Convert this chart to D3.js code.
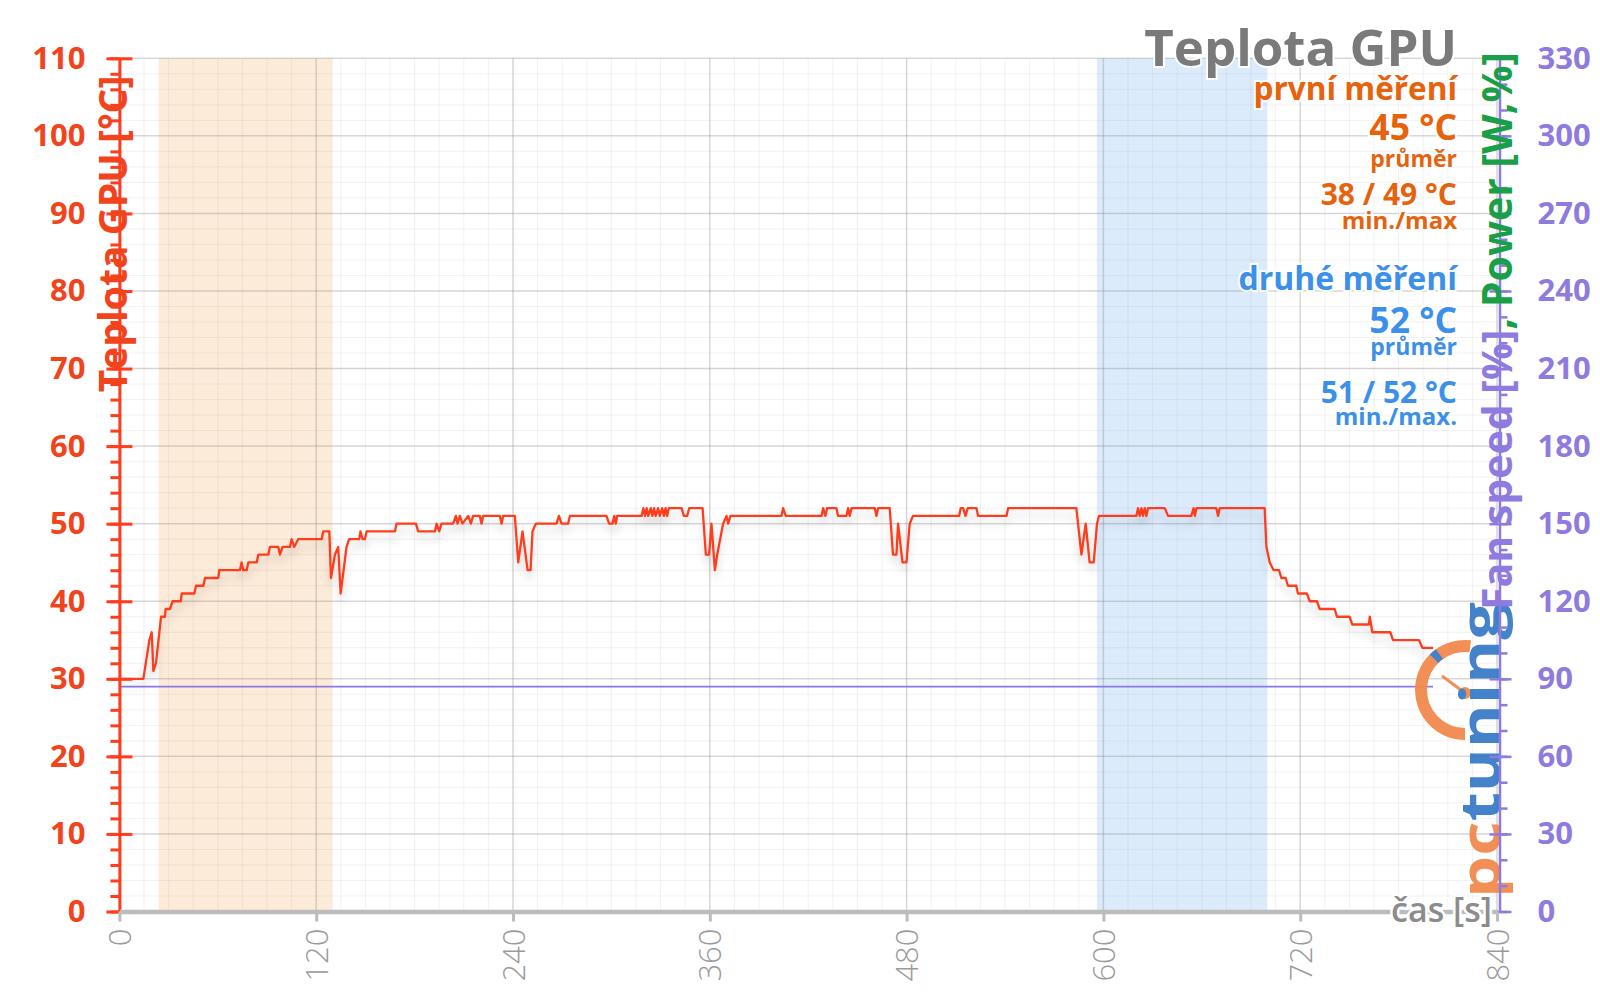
<!DOCTYPE html>
<html>
<head>
<meta charset="utf-8">
<script src="https://cdn.jsdelivr.net/npm/d3@7"></script>
<style>
  body { margin: 0; background: #fff; }
  svg { display: block; }
  text { font-family: "Open Sans", "DejaVu Sans", sans-serif; }
</style>
</head>
<body>
<svg id="chart" width="1600" height="1007"></svg>
<script>
// GPU temperature over time (s, °C)
var tempTime = [0, 14.6, 18.3, 19.7, 20.7, 22.3, 25.4, 27.8, 28.2, 30.8, 32.5, 37.5, 38, 45.7, 46.7, 51.2, 52.2, 60.3, 60.9, 73.5,
  74.5, 75.5, 77.6, 78.6, 83.7, 84.7, 90.8, 91.8, 96.9, 97.9, 99.5, 104, 105, 106.6, 109, 123.3, 124.3, 128, 129, 131.4,
  133.4, 134.9, 138.5, 140.1, 146.2, 147, 148.3, 149.7, 150.7, 168, 169, 180.8, 182.2, 192.4, 193.4, 195, 196.4, 203.5, 205.2, 206.2,
  207.6, 209.2, 212.7, 214.3, 215.7, 219.8, 220.8, 221.8, 232, 233, 234, 241.1, 243.2, 245.8, 248.9, 250.7, 251.9, 253.9, 266.6, 268,
  269.6, 273.6, 274.7, 297, 298.6, 300.7, 301.7, 302.7, 303.5, 318.4, 319.5, 320.5, 321.5, 322.5, 324, 325, 326, 327, 328.5, 329.5,
  331, 332, 333, 334, 335, 342.8, 344.2, 346.2, 347.4, 355.6, 357.6, 359.6, 361, 363.1, 364.5, 368.1, 370.2, 371.2, 372.6, 403.7,
  404.7, 406.3, 428.1, 429.1, 430.5, 431.5, 437.2, 438.2, 443.3, 444.3, 445.3, 446.4, 460.6, 461.6, 462.6, 469.7, 471.7, 473.8, 474.8, 477.5,
  479.9, 481.9, 483.9, 512, 513, 514.5, 515.9, 517.3, 522.6, 523.6, 540.9, 541.9, 583.5, 586.6, 589.2, 591.6, 594.1, 596.1, 597.3, 620.1,
  621.1, 622.1, 623.2, 624.1, 625.2, 626.2, 627.2, 637.4, 639.4, 653.6, 655, 655.8, 656.7, 668.9, 669.9, 670.9, 698.3, 699.4, 701.4, 703.8,
  707.1, 708.5, 711.1, 712.5, 717.6, 718.6, 724.1, 725.8, 730.2, 731.9, 741, 742.4, 750.1, 751.8, 761.9, 762.4, 763.2, 764, 775, 776.6,
  792.4, 794.5, 801];
var tempValue = [30, 30, 35, 36, 31, 32, 38, 38, 39, 39, 40, 40, 41, 41, 42, 42, 43, 43, 44, 44,
  45, 44, 44, 45, 45, 46, 46, 47, 47, 46, 47, 47, 48, 47, 48, 48, 49, 49, 43, 46,
  47, 41, 47, 48, 48, 49, 48, 48, 49, 49, 50, 50, 49, 49, 50, 49, 50, 50, 51, 50,
  51, 50, 51, 50, 51, 51, 50, 51, 51, 50, 51, 51, 45, 49, 44, 44, 49, 50, 50, 51,
  50, 50, 51, 51, 50, 50, 51, 50, 51, 51, 52, 51, 52, 51, 52, 51, 52, 51, 52, 51,
  52, 51, 52, 51, 52, 52, 51, 51, 52, 52, 46, 46, 50, 44, 46, 50, 51, 50, 51, 51,
  52, 51, 51, 52, 51, 52, 52, 51, 51, 52, 51, 52, 52, 51, 52, 52, 46, 46, 50, 45,
  45, 50, 51, 51, 52, 52, 51, 52, 52, 51, 51, 52, 52, 46, 50, 45, 45, 50, 51, 51,
  52, 51, 52, 51, 52, 51, 52, 52, 51, 51, 52, 51, 52, 52, 51, 52, 52, 47, 45, 44,
  44, 43, 43, 42, 42, 41, 41, 40, 40, 39, 39, 38, 38, 37, 37, 38, 37, 36, 36, 35,
  35, 34, 34];

// fan speed, plotted against the right axis
var fanTime = [0, 801];
var fanValue = [87, 87];

var xTicks = [0, 120, 240, 360, 480, 600, 720, 840];
var leftTicks = [0, 10, 20, 30, 40, 50, 60, 70, 80, 90, 100, 110];
var rightTicks = [0, 30, 60, 90, 120, 150, 180, 210, 240, 270, 300, 330];

// measured intervals (s)
var firstRun = [24, 130];
var secondRun = [596, 700];

var svg = d3.select("#chart"),
    pLeft = 119.4, pRight = 1497, pTop = 58.3, pBottom = 911.5;

var x = d3.scaleLinear().domain([0, 840]).range([pLeft, pRight]),
    yL = d3.scaleLinear().domain([0, 110]).range([pBottom, pTop]),
    yR = d3.scaleLinear().domain([0, 330]).range([pBottom, pTop]);

var red = "#ff3c1c", redText = "#f2441c", purple = "#8f7be0", green = "#1a9e48",
    orange = "#e7620d", blue = "#3c90ea", gray = "#9a9a9a";

var defs = svg.append("defs");
defs.append("filter").attr("id", "shadow")
    .attr("x", "-5%").attr("y", "-30%").attr("width", "110%").attr("height", "180%")
  .append("feDropShadow")
    .attr("dx", 0).attr("dy", 7).attr("stdDeviation", 4)
    .attr("flood-color", "#000").attr("flood-opacity", 0.16);

// measurement bands
svg.append("rect")
    .attr("x", x(firstRun[0])).attr("width", x(firstRun[1]) - x(firstRun[0]))
    .attr("y", pTop).attr("height", pBottom - pTop)
    .attr("fill", "#fdebd9");
svg.append("rect")
    .attr("x", x(secondRun[0])).attr("width", x(secondRun[1]) - x(secondRun[0]))
    .attr("y", pTop).attr("height", pBottom - pTop)
    .attr("fill", "#dcebfc");

// grid
var grid = svg.append("g");
grid.selectAll(".vmin").data(d3.range(0, 841, 15)).enter().append("line")
    .attr("x1", x).attr("x2", x).attr("y1", pTop).attr("y2", pBottom)
    .attr("stroke", "#8a8a8a").attr("stroke-opacity", 0.11).attr("stroke-width", 1);
grid.selectAll(".hmin").data(d3.range(0, 111, 2)).enter().append("line")
    .attr("x1", pLeft).attr("x2", pRight).attr("y1", yL).attr("y2", yL)
    .attr("stroke", "#8a8a8a").attr("stroke-opacity", 0.11).attr("stroke-width", 1);
grid.selectAll(".vmaj").data(xTicks).enter().append("line")
    .attr("x1", x).attr("x2", x).attr("y1", pTop).attr("y2", pBottom)
    .attr("stroke", "#8a8a8a").attr("stroke-opacity", 0.28).attr("stroke-width", 1.5);
grid.selectAll(".hmaj").data(leftTicks).enter().append("line")
    .attr("x1", pLeft).attr("x2", pRight).attr("y1", yL).attr("y2", yL)
    .attr("stroke", "#8a8a8a").attr("stroke-opacity", 0.28).attr("stroke-width", 1.5);

// fan speed line
svg.append("path")
    .datum(d3.range(fanTime.length))
    .attr("fill", "none").attr("stroke", "#8a78e6").attr("stroke-width", 1.8)
    .attr("d", d3.line().x(function(i) { return x(fanTime[i]); }).y(function(i) { return yR(fanValue[i]); }));

// temperature line
svg.append("path")
    .datum(d3.range(tempTime.length))
    .attr("fill", "none").attr("stroke", red).attr("stroke-width", 2.3)
    .attr("stroke-linejoin", "round")
    .attr("filter", "url(#shadow)")
    .attr("d", d3.line().x(function(i) { return x(tempTime[i]); }).y(function(i) { return yL(tempValue[i]); }));

// logo (watermark)
var logo = svg.append("g").attr("opacity", 0.95);
var cx = 1465, cy = 690, r = 44;
logo.append("path")
    .attr("d", d3.arc().innerRadius(r - 6).outerRadius(r + 6).startAngle(0.12).endAngle(-Math.PI)())
    .attr("transform", "translate(" + cx + "," + cy + ")")
    .attr("fill", "#f28a4e");
logo.append("path")
    .attr("d", d3.arc().innerRadius(r - 6).outerRadius(r + 6).startAngle(-0.78).endAngle(-0.62)())
    .attr("transform", "translate(" + cx + "," + cy + ")")
    .attr("fill", "#3a7cc8");
logo.append("line").attr("x1", 1442).attr("y1", 676).attr("x2", cx).attr("y2", 693)
    .attr("stroke", "#f28a4e").attr("stroke-width", 3);
logo.append("circle").attr("cx", cx).attr("cy", 693).attr("r", 6).attr("fill", "#f28a4e");
var lt = logo.append("text")
    .attr("transform", "translate(1500,898) rotate(-90)")
    .attr("font-size", 56).attr("font-weight", 700)
    .attr("textLength", 296).attr("lengthAdjust", "spacingAndGlyphs");
lt.append("tspan").attr("fill", "#f28a4e").text("pc");
lt.append("tspan").attr("fill", "#3a7cc8").text("tuning");

// left axis
var gl = svg.append("g").attr("transform", "translate(" + pLeft + ",0)");
gl.call(d3.axisLeft(yL).tickValues(d3.range(0, 111, 2)).tickSize(9).tickFormat(""));
gl.select(".domain").remove();
gl.selectAll("line").attr("stroke", red).attr("stroke-width", 3);
var glm = svg.append("g").attr("transform", "translate(" + pLeft + ",0)")
    .call(d3.axisLeft(yL).tickValues(leftTicks).tickSizeInner(13).tickSizeOuter(0).tickPadding(21));
glm.select(".domain").attr("stroke", red).attr("stroke-width", 3);
glm.selectAll(".tick line").attr("x1", 13).attr("x2", -13).attr("stroke", red).attr("stroke-width", 3);
glm.selectAll("text").attr("fill", redText).attr("font-size", 31).attr("font-weight", 700)
    .attr("font-family", "'Open Sans', sans-serif");

// right axis
var rx = 1499.5;
var gr = svg.append("g").attr("transform", "translate(" + rx + ",0)");
gr.call(d3.axisRight(yR).tickValues(d3.range(0, 331, 10)).tickSize(8).tickFormat(""));
gr.select(".domain").remove();
gr.selectAll("line").attr("stroke", purple).attr("stroke-width", 2.5);
var grm = svg.append("g").attr("transform", "translate(" + rx + ",0)")
    .call(d3.axisRight(yR).tickValues(rightTicks).tickSizeInner(12).tickSizeOuter(0).tickPadding(26));
grm.select(".domain").attr("stroke", purple).attr("stroke-width", 2.5);
grm.selectAll(".tick line").attr("x1", -10).attr("x2", 12).attr("stroke", purple).attr("stroke-width", 2.5);
grm.selectAll("text").attr("fill", purple).attr("font-size", 31).attr("font-weight", 700)
    .attr("font-family", "'Open Sans', sans-serif");

// bottom axis
var gb = svg.append("g").attr("transform", "translate(0," + pBottom + ")")
    .call(d3.axisBottom(x).tickValues(xTicks).tickSizeInner(10).tickSizeOuter(0));
gb.select(".domain").attr("stroke", "#bcbcbc").attr("stroke-width", 4.5);
gb.selectAll(".tick line").attr("stroke", "#bcbcbc").attr("stroke-width", 3);
gb.selectAll("text")
    .attr("transform", "rotate(-90)")
    .attr("x", -17).attr("y", 0).attr("dy", "0.36em")
    .attr("text-anchor", "end")
    .attr("fill", gray).attr("font-size", 31).attr("font-weight", 300)
    .attr("font-family", "'Open Sans', sans-serif");

svg.append("text")
    .attr("x", 1492).attr("y", 922).attr("text-anchor", "end")
    .attr("font-size", 34).attr("font-weight", 600).attr("fill", "#8c8c8c")
    .attr("stroke", "#fff").attr("stroke-width", 5).attr("paint-order", "stroke")
    .text("čas [s]");

// axis titles
svg.append("text")
    .attr("transform", "translate(127,234) rotate(-90)")
    .attr("text-anchor", "middle")
    .attr("font-size", 39).attr("font-weight", 700).attr("fill", redText)
    .text("Teplota GPU [°C]");

var rt = svg.append("text")
    .attr("transform", "translate(1512,331) rotate(-90)")
    .attr("text-anchor", "middle")
    .attr("font-size", 41).attr("font-weight", 700);
rt.append("tspan").attr("fill", purple).text("Fan speed [%]");
rt.append("tspan").attr("fill", green).text(", Power [W,%]");

// title and summary
var legend = [
  {t: "Teplota GPU", y: 66, s: 51, c: "#7a7a7a"},
  {t: "první měření", y: 100, s: 31.5, c: orange},
  {t: "45 °C", y: 140, s: 35.5, c: orange},
  {t: "průměr", y: 167, s: 23, c: orange},
  {t: "38 / 49 °C", y: 205, s: 30, c: orange},
  {t: "min./max", y: 229, s: 24, c: orange},
  {t: "druhé měření", y: 290, s: 32, c: blue},
  {t: "52 °C", y: 333, s: 35.5, c: blue},
  {t: "průměr", y: 355, s: 23, c: blue},
  {t: "51 / 52 °C", y: 403, s: 30, c: blue},
  {t: "min./max.", y: 425, s: 24, c: blue}
];
svg.selectAll(".legend").data(legend).enter().append("text")
    .attr("x", 1457).attr("y", function(d) { return d.y; })
    .attr("text-anchor", "end")
    .attr("font-size", function(d) { return d.s; })
    .attr("font-weight", 700)
    .attr("fill", function(d) { return d.c; })
    .attr("stroke", "#fff").attr("stroke-width", 4).attr("stroke-opacity", 0.9)
    .attr("paint-order", "stroke")
    .text(function(d) { return d.t; });
</script>
</body>
</html>
